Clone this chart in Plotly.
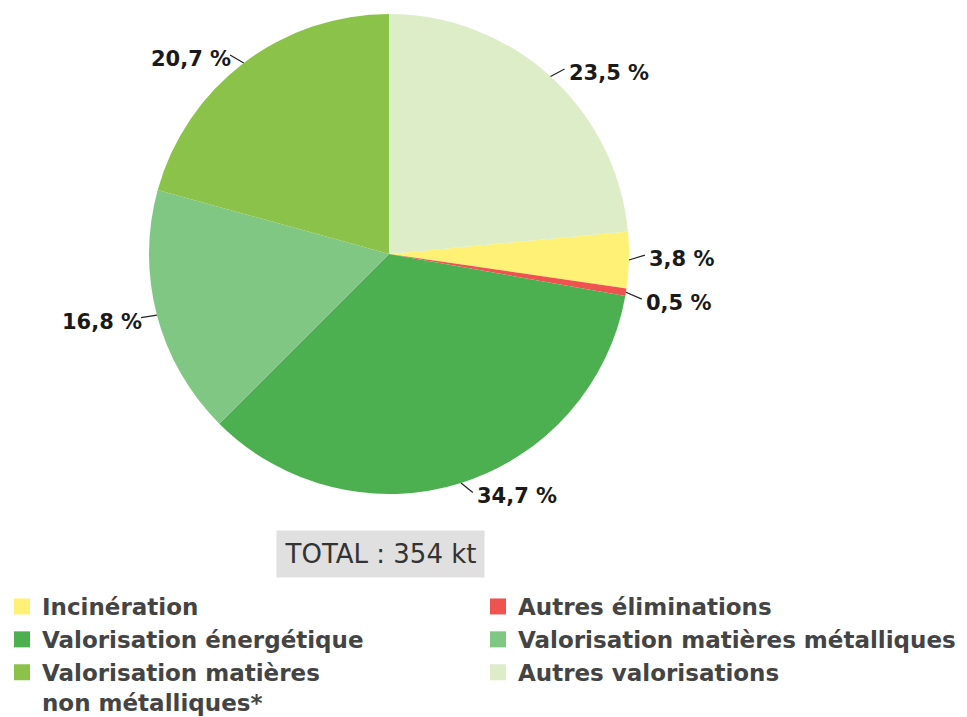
import math
import plotly.graph_objects as go

# ---- data ----
labels = ["Incinération", "Autres éliminations", "Valorisation énergétique",
          "Valorisation matières métalliques",
          "Valorisation matières<br>non métalliques*", "Autres valorisations"]
values = [3.8, 0.5, 34.7, 16.8, 20.7, 23.5]
colors = ["#fff176", "#ef5350", "#4caf50", "#81c784", "#8bc34a", "#dcedc8"]
total_text = "TOTAL : 354 kt"

# ---- layout geometry (pixels, figure coords; page has an 8px body margin) ----
W, H = 959, 709
cx, cy, R = 381, 246, 240

total = sum(values)
# first slice starts after the last one (which begins at 12 o'clock)
rotation = 360 * values[-1] / total

fig = go.Figure()
fig.add_trace(go.Pie(
    labels=labels, values=values, sort=False, direction="clockwise",
    rotation=rotation, showlegend=False,
    marker=dict(colors=colors, line=dict(width=0)),
    textinfo="none", hoverinfo="label+percent",
    domain=dict(x=[(cx - R) / W, (cx + R) / W], y=[(H - cy - R) / H, (H - cy + R) / H]),
))

# legend entries (square swatches)
for lab, col in zip(labels, colors):
    fig.add_trace(go.Scatter(x=[None], y=[None], mode="markers", name=lab,
                             marker=dict(symbol="square", size=16, color=col),
                             hoverinfo="skip"))

# ---- outside labels with connectors ----
items = []
cum = rotation
for v in values:
    mid = math.radians(cum + 360 * v / total / 2)
    cum += 360 * v / total
    s, c = math.sin(mid), math.cos(mid)
    x0, y0 = cx + R * s, cy - R * c
    side = 1 if s >= 0 else -1
    x1, y1 = x0 + side * (10 + 6 * abs(s)), y0 - c * 10
    items.append(dict(v=v, side=side, x0=x0, y0=y0, x1=x1, y1=y1))

# simple collision avoidance per side
for side in (1, -1):
    grp = sorted([it for it in items if it["side"] == side], key=lambda d: d["y1"])
    for a, b in zip(grp, grp[1:]):
        gap = b["y1"] - a["y1"]
        if gap < 44:
            d = (44 - gap) / 2
            a["y1"] -= d
            b["y1"] += d

for it in items:
    fig.add_shape(type="line", xref="paper", yref="paper",
                  x0=it["x0"] / W, y0=1 - it["y0"] / H, x1=it["x1"] / W, y1=1 - it["y1"] / H,
                  line=dict(color="#222", width=1.2))
    txt = f"{it['v']:.1f} %".replace(".", ",")
    gap = 2 if it["side"] > 0 else -3
    fig.add_annotation(xref="paper", yref="paper",
                       x=(it["x1"] + it["side"] * gap) / W, y=1 - (it["y1"] + 4) / H,
                       text=txt, showarrow=False,
                       xanchor="left" if it["side"] > 0 else "right", yanchor="middle",
                       font=dict(family="DejaVu Sans", size=21, color="#1a1a1a", weight="bold"))

fig.add_annotation(xref="paper", yref="paper", x=372 / W, y=1 - 546 / H,
                   text=total_text, showarrow=False, xanchor="center", yanchor="middle",
                   width=197, height=36, align="center", valign="middle",
                   bgcolor="#e0e0e0", borderpad=5,
                   font=dict(family="DejaVu Sans", size=26, color="#333"))

fig.update_layout(
    width=W, height=H, margin=dict(l=0, r=0, t=0, b=0, autoexpand=False),
    paper_bgcolor="white", plot_bgcolor="white",
    showlegend=True,
    xaxis=dict(visible=False), yaxis=dict(visible=False),
    legend=dict(orientation="h", x=0, xanchor="left", y=1 - 577 / H, yanchor="top",
                indentation=-6, valign="top",
                entrywidth=437, entrywidthmode="pixels", traceorder="normal",
                font=dict(family="DejaVu Sans", size=23, color="#444", weight="bold"),
                itemsizing="trace"),
)

fig.write_html("out.html")
